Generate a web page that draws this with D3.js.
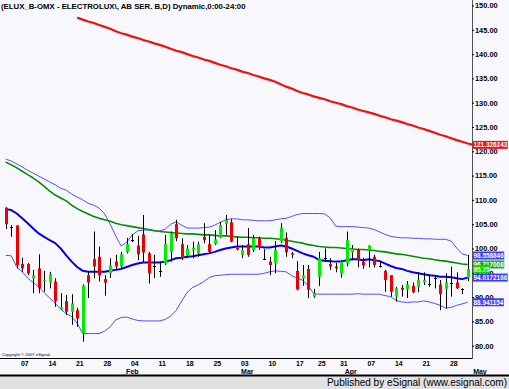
<!DOCTYPE html>
<html><head><meta charset="utf-8">
<script src="https://cdn.jsdelivr.net/npm/d3@7"></script>
<style>html,body{margin:0;padding:0;background:#fff;}svg{display:block;}</style>
</head><body>
<script>
// ---------- DATA ----------
const opens  = [108.4,104.5,104.7,96.8,96.8,93.9,95.9,93.4,93.0,93.2,87.5,89.2,87.0,87.3,82.6,94.5,97.8,98.3,93.7,94.9,97.3,96.3,99.3,101.8,100.6,102.9,99.0,96.3,95.4,97.0,99.3,105.0,100.9,98.5,99.7,99.0,102.4,100.9,100.9,102.4,105.0,105.4,100.2,98.7,100.9,99.7,102.1,97.8,97.3,97.0,101.5,102.2,99.0,95.4,93.9,95.8,90.1,94.2,98.0,96.8,96.3,94.9,97.0,99.2,99.7,97.3,99.7,98.3,96.3,95.4,94.5,90.1,91.9,91.7,92.3,92.1,93.0,92.6,93.9,92.6,91.7,93.0,93.0,91.6,94.0];
const highs  = [108.5,104.8,104.8,98.1,97.0,95.6,98.8,95.4,95.2,93.9,90.8,90.4,90.6,87.8,92.6,95.2,103.5,100.4,94.5,98.0,98.7,99.3,102.2,103.0,102.6,106.9,99.3,98.7,97.3,102.8,103.5,105.9,102.1,100.7,101.4,101.4,105.2,102.8,103.8,105.5,106.9,106.1,102.4,100.7,104.2,102.8,102.4,99.9,98.3,101.5,105.2,103.3,99.3,97.4,96.6,96.6,91.7,99.3,100.0,98.0,97.0,97.6,103.5,100.7,100.0,98.1,100.7,98.7,97.4,95.6,94.5,92.1,92.5,93.3,93.0,95.1,95.1,94.7,94.2,93.5,94.9,96.3,95.1,91.8,98.7];
const lows   = [104.0,102.4,95.9,95.2,94.5,90.8,90.8,91.1,91.8,88.0,87.3,86.3,84.3,83.9,80.8,89.8,93.9,93.2,90.3,93.9,95.8,95.9,99.0,101.3,97.6,97.0,92.8,93.9,94.2,96.6,97.3,101.5,97.6,98.0,98.0,98.3,101.1,99.0,100.7,102.1,102.8,101.3,99.6,98.0,98.3,99.3,99.7,97.6,94.5,94.9,101.1,98.3,98.0,91.4,92.3,89.8,89.8,92.3,97.3,95.6,95.1,94.0,96.3,97.6,96.1,95.8,96.1,96.1,96.1,91.1,90.1,89.1,90.1,89.8,90.8,91.0,92.5,92.1,91.8,87.3,87.7,90.1,91.7,90.6,93.3];
const closes = [105.0,104.5,96.6,95.9,94.9,94.5,91.8,93.6,94.7,89.2,87.9,87.0,88.7,85.6,92.3,93.0,96.3,94.5,93.0,96.5,96.3,98.8,100.9,101.8,98.8,99.2,94.9,96.3,95.4,100.9,103.1,102.1,98.0,100.0,100.2,100.9,101.7,99.3,101.9,104.8,105.9,101.4,99.8,99.7,98.7,102.1,100.2,97.8,96.6,99.7,104.3,99.2,98.7,91.6,94.5,91.5,90.8,98.0,98.0,96.3,95.9,97.3,101.7,100.0,97.6,96.5,100.6,96.6,96.3,93.5,91.1,91.8,91.5,92.6,91.0,93.5,93.5,92.6,93.9,90.6,93.0,93.0,91.8,91.6,95.75];

const maBlue = [108.1,107.9,107.2,106.2,105.2,104.1,103.1,102.4,101.7,101.1,100.0,98.6,97.3,96.2,95.4,95.2,95.2,95.2,95.2,95.4,95.6,95.8,96.2,96.6,96.9,97.1,97.1,97.1,97.1,97.3,97.6,98.0,98.1,98.3,98.4,98.6,98.8,99.0,99.3,99.7,100.0,100.2,100.4,100.4,100.4,100.4,100.4,100.2,100.2,100.4,100.6,100.4,100.0,99.5,99.0,98.6,98.3,97.6,97.5,97.4,97.3,97.3,97.6,97.8,97.8,97.6,97.8,97.6,97.4,96.9,96.4,96.0,95.8,95.4,95.1,94.9,94.7,94.5,94.4,94.2,94.2,94.1,93.9,93.7,94.02];
const maGreen = [117.8,117.2,116.6,115.9,115.2,114.5,113.7,112.8,111.8,111.0,110.4,109.8,108.9,108.2,107.6,107.1,106.6,106.2,105.9,105.6,105.2,104.9,104.7,104.5,104.3,104.1,103.9,103.7,103.5,103.4,103.3,103.2,103.1,103.0,103.0,102.9,102.8,102.8,102.7,102.6,102.6,102.5,102.4,102.3,102.3,102.2,102.2,102.1,102.1,102.0,101.9,101.7,101.5,101.3,101.1,100.8,100.6,100.4,100.3,100.2,100.2,100.1,100.0,99.9,99.8,99.8,99.7,99.6,99.4,99.3,99.1,98.9,98.8,98.6,98.4,98.2,98.0,97.9,97.7,97.5,97.4,97.2,97.0,96.8,96.72];
const bandUpper = [118.4,118.0,117.4,116.8,116.1,115.5,114.9,114.3,113.7,113.1,112.4,112.0,111.2,110.6,110.0,109.3,108.9,108.3,107.1,105.0,102.6,100.5,101.3,102.8,103.6,103.8,103.8,103.6,103.6,104.0,105.0,105.5,104.8,104.2,104.2,104.2,104.3,104.4,104.8,105.4,105.9,106.1,106.1,105.9,105.9,105.8,105.7,105.7,105.7,105.9,106.1,106.2,106.6,107.0,107.2,107.2,107.2,107.2,107.1,106.3,104.6,104.5,104.5,104.5,104.4,104.3,104.2,103.9,103.4,102.9,102.5,102.3,102.2,102.2,102.1,102.1,102.0,102.0,101.9,101.9,101.9,101.5,100.1,98.9,98.56];
const bandLower = [98.6,98.5,96.2,95.2,93.9,93.0,92.1,90.9,89.8,88.7,87.5,86.6,86.0,84.6,82.5,82.5,82.5,82.5,83.0,83.9,85.3,85.8,85.9,85.5,85.2,85.1,85.1,85.1,85.1,85.4,86.1,87.3,89.2,91.0,92.0,92.5,93.2,94.0,94.4,94.5,94.6,94.7,94.7,94.7,94.7,94.7,94.7,94.9,95.2,95.4,95.3,95.2,94.4,93.9,93.5,92.3,90.7,90.6,90.6,90.6,90.6,90.6,90.6,90.6,90.7,90.6,90.6,90.6,90.6,90.3,90.1,89.3,89.0,88.9,89.0,89.0,89.2,89.0,88.7,88.3,87.7,87.9,88.3,88.6,88.94];
const maRedStart = 13;
const maRed = [147.5,147.1,146.7,146.4,146.0,145.6,145.2,144.7,144.3,144.0,143.6,143.3,142.9,142.6,142.2,141.9,141.5,141.1,140.7,140.4,140.0,139.6,139.3,138.9,138.6,138.2,137.8,137.5,137.1,136.8,136.4,136.1,135.7,135.4,135.0,134.7,134.3,133.8,133.3,132.9,132.4,132.0,131.7,131.3,131.0,130.7,130.3,130.0,129.7,129.3,129.0,128.6,128.3,128.0,127.7,127.3,127.0,126.6,126.3,126.0,125.6,125.3,124.9,124.6,124.2,123.8,123.4,123.1,122.7,122.3,121.95,121.6,121.33];

const dayTicks  = [[3,"07"],[8,"14"],[13,"21"],[18,"28"],[23,"04"],[28,"11"],[33,"18"],[38,"25"],[43,"03"],[48,"10"],[53,"17"],[57,"25"],[61,"31"],[66,"07"],[71,"14"],[76,"21"],[81,"28"]];
const monthTicks = [[22.3,"Feb"],[43.2,"Mar"],[62,"Apr"],[85.5,"May"]];
const yTicks = [150,145,140,135,130,125,120,115,110,105,100,95,90,85,80];
const title = "(ELUX_B-OMX - ELECTROLUX\\, AB SER. B,D) Dynamic,0:00-24:00";

// ---------- DRAW ----------
const W = 509, H = 389;
const svg = d3.select("body").append("svg").attr("width", W).attr("height", H)
  .style("font-family", "'Liberation Sans', Arial, sans-serif");

const plotRight = 472, plotBottom = 358, axisBottom = 375;
svg.append("rect").attr("x",0).attr("y",0).attr("width",W).attr("height",axisBottom).attr("fill","#f8f8fc");
svg.append("rect").attr("x",0).attr("y",axisBottom).attr("width",W).attr("height",H-axisBottom).attr("fill","#e2e2e2");

const x = d3.scaleLinear().domain([0, 84]).range([5.7, 467.7]);
const y = d3.scaleLinear().domain([80, 150]).range([345.7, 5.5]);

// frame lines
svg.append("line").attr("x1",0).attr("x2",plotRight).attr("y1",plotBottom+0.5).attr("y2",plotBottom+0.5).attr("stroke","#000");
svg.append("line").attr("x1",plotRight+0.5).attr("x2",plotRight+0.5).attr("y1",0).attr("y2",plotBottom+1).attr("stroke","#555");
svg.append("line").attr("x1",0).attr("x2",W).attr("y1",axisBottom+0.5).attr("y2",axisBottom+0.5).attr("stroke","#000").attr("stroke-width",2);

// title
svg.append("text").attr("x",1).attr("y",9).attr("font-size",7.8).attr("font-weight","bold").attr("fill","#000").text(title);

// y axis labels
const yAxis = d3.axisRight(y).tickValues(yTicks).tickFormat(d3.format(".2f")).tickSize(2).tickPadding(1);
const ya = svg.append("g").attr("transform",`translate(${plotRight},0)`).call(yAxis);
ya.select(".domain").remove();
ya.selectAll("text").attr("font-size",7.4).attr("font-weight","bold").attr("fill","#000").attr("font-family","'Liberation Sans', Arial, sans-serif");
ya.selectAll("line").attr("stroke","#000");

// lines
const idx = d3.range(opens.length);
const line = d3.line().x(d => x(d[0])).y(d => y(d[1]));
function drawLine(vals, start, color, width){
  svg.append("path").datum(vals.map((v,i)=>[i+start, v])).attr("d", line)
    .attr("fill","none").attr("stroke", color).attr("stroke-width", width).attr("stroke-linejoin","round");
}
drawLine(bandUpper, 0, "#3b3bff", 0.9);
drawLine(bandLower, 0, "#3b3bff", 0.9);
drawLine(maGreen, 0, "#0a8a0a", 1.6);
drawLine(maBlue, 0, "#0000ee", 2);
drawLine(maRed, maRedStart, "#ee1111", 2.2);

// candles
const bw = 3;
const cg = svg.append("g");
idx.forEach(i => {
  const o = opens[i], c = closes[i], hi = highs[i], lo = lows[i];
  const cx = Math.round(x(i)) + 0.5;
  cg.append("line").attr("x1",cx).attr("x2",cx).attr("y1",y(hi)).attr("y2",y(lo)).attr("stroke","#000").attr("stroke-width",1);
  if (o === c) {
    cg.append("line").attr("x1",cx-1.5).attr("x2",cx+1.5).attr("y1",Math.round(y(c))+0.5).attr("y2",Math.round(y(c))+0.5).attr("stroke","#000");
  } else {
    const top = y(Math.max(o,c)), bot = y(Math.min(o,c));
    cg.append("rect").attr("x",cx-bw/2).attr("width",bw).attr("y",top).attr("height",Math.max(1.5,bot-top))
      .attr("fill", c > o ? "#00ee00" : "#ee0000");
  }
});

// x labels
const xl = svg.append("g").attr("font-size",7).attr("font-weight","bold").attr("fill","#000").attr("text-anchor","middle");
dayTicks.forEach(([i,t]) => xl.append("text").attr("x", x(i)+2.6).attr("y", 365.5).text(t));
monthTicks.forEach(([i,t]) => xl.append("text").attr("x", x(i)+4).attr("y", 373.5).text(t));

// copyright
svg.append("text").attr("x",2).attr("y",356).attr("font-size",4.2).attr("fill","#000").text("Copyright © 2007 eSignal.");

// footer
svg.append("text").attr("x",507).attr("y",386).attr("text-anchor","end").attr("font-size",10).attr("fill","#000")
  .text("Published by eSignal (www.esignal.com)");

// value labels
function valueLabel(v, txt, bg){
  const g = svg.append("g");
  const r = g.append("rect").attr("x",plotRight+1).attr("y",y(v)-4).attr("height",8).attr("fill",bg);
  const t = g.append("text").attr("x",plotRight+1.5).attr("y",y(v)+2.6).attr("font-size",6.4).attr("font-weight","bold").attr("fill","#fff").text(txt);
  const w = Math.min(W - plotRight - 2, t.node().getComputedTextLength() + 1);
  r.attr("width", w);
}
valueLabel(121.326243, "121.326243", "#ee1111");
valueLabel(98.558846, "98.558846", "#3b3bff");
valueLabel(96.717008, "96.717008", "#22aa22");
valueLabel(95.75, "95.75", "#00dd00");
valueLabel(94.0172166, "94.0172166", "#3b3bff");
valueLabel(88.941154, "88.941154", "#3b3bff");
</script>
</body></html>
